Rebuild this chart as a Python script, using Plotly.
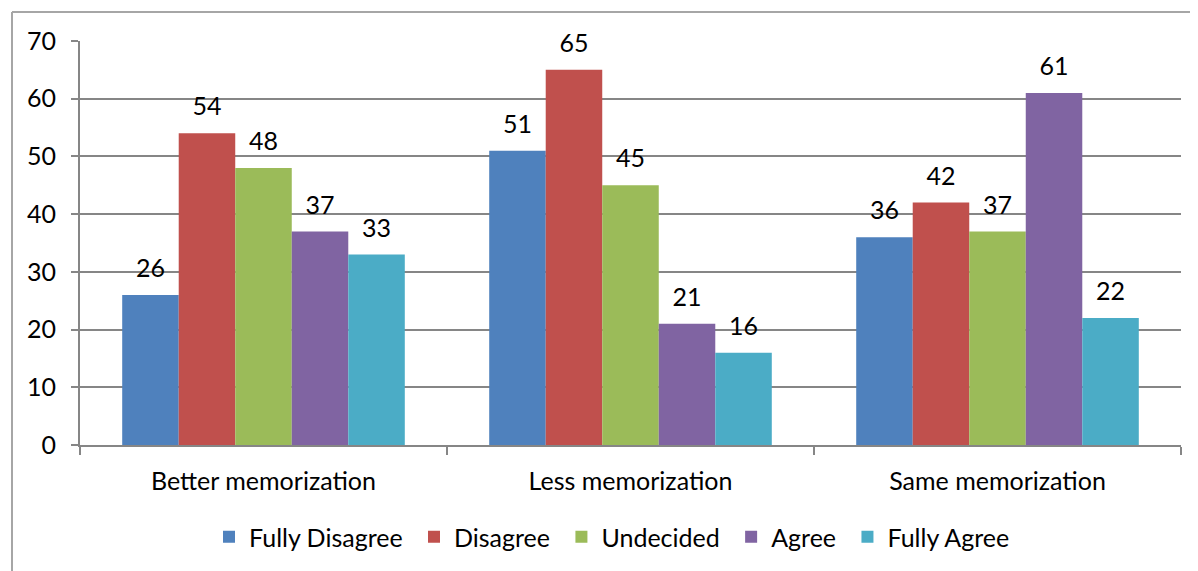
import plotly.graph_objects as go

categories = ["Better memorization", "Less memorization", "Same memorization"]
series_names = ["Fully Disagree", "Disagree", "Undecided", "Agree", "Fully Agree"]
fully_disagree = [26, 51, 36]
disagree = [54, 65, 42]
undecided = [48, 45, 37]
agree = [37, 21, 61]
fully_agree = [33, 16, 22]
y_ticks = [0, 10, 20, 30, 40, 50, 60, 70]

colors = ["#4F81BD", "#C0504D", "#9BBB59", "#8064A2", "#4BACC6"]
values = [fully_disagree, disagree, undecided, agree, fully_agree]

FONT = "Lato"
FS = 25
GAP = 0.23

fig = go.Figure()
n = len(series_names)
for i, (name, vals, col) in enumerate(zip(series_names, values, colors)):
    legend_name = name + ("\u00a0" if i < n - 1 else "")
    fig.add_trace(go.Bar(
        name=legend_name, x=categories, y=vals,
        marker=dict(color=col, line=dict(width=0)),
        hoverinfo="x+y",
    ))
for name, vals in zip(series_names, values):
    fig.add_trace(go.Scatter(
        name=name, x=categories, y=vals, mode="markers+text",
        text=vals, textposition="top center",
        marker=dict(size=17, opacity=0),
        textfont=dict(family=FONT, size=FS, color="#000000"),
        showlegend=False, hoverinfo="skip", cliponaxis=False,
    ))

# page body has an 8px margin
W, H = 1190, 563
ml, mt = 72, 33
pw, ph = 1101, 405
mr = W - ml - pw
mb = H - mt - ph

fig.update_layout(
    width=W, height=H,
    margin=dict(l=ml, r=mr, t=mt, b=mb, pad=0),
    paper_bgcolor="white", plot_bgcolor="white",
    barmode="group", bargap=GAP, bargroupgap=0,
    scattermode="group", scattergap=GAP,
    font=dict(family=FONT, size=FS, color="#000000"),
    showlegend=True,
    legend=dict(orientation="h", x=(612 - 80) / pw, xanchor="center",
                y=-91 / ph, yanchor="middle",
                font=dict(family=FONT, size=FS, color="#000000"),
                itemwidth=30, tracegroupgap=0),
    xaxis=dict(showline=True, linecolor="#868686", linewidth=2,
               ticks="outside", tickson="boundaries", ticklen=8,
               tickcolor="#868686", tickwidth=2,
               tickfont=dict(family=FONT, size=FS), showgrid=False,
               ticklabelstandoff=13),
    yaxis=dict(range=[0, 70], tickvals=y_ticks, showline=True,
               linecolor="#868686", linewidth=2, ticks="outside",
               ticklen=7, tickcolor="#868686", tickwidth=2,
               showgrid=True, gridcolor="#868686", gridwidth=2,
               zeroline=False, tickfont=dict(family=FONT, size=FS),
               ticklabelstandoff=10),
)

# outer chart border (left and top edges visible)
x_left = (4 - ml) / pw
y_top = 1 + (mt - 4) / ph
fig.add_shape(type="line", xref="paper", yref="paper",
              x0=x_left, x1=x_left, y0=y_top, y1=-1,
              line=dict(color="#A6A6A6", width=2))
fig.add_shape(type="line", xref="paper", yref="paper",
              x0=x_left, x1=1.5, y0=y_top, y1=y_top,
              line=dict(color="#A6A6A6", width=2))

fig.write_html("out.html")
